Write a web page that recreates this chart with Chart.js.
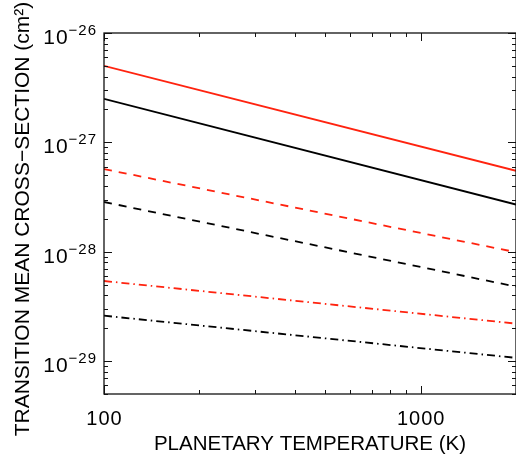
<!DOCTYPE html>
<html>
<head>
<meta charset="utf-8">
<script src="https://cdn.jsdelivr.net/npm/chart.js@4.4.1/dist/chart.umd.min.js"></script>
<style>
  html, body { margin: 0; padding: 0; background: #fff; overflow: hidden; }
  #wrap { width: 516px; height: 457px; overflow: hidden; }
  canvas { display: block; }
</style>
</head>
<body>
<div id="wrap"><canvas id="c" width="520" height="457"></canvas></div>
<script>
// ---- data ----
const temperatures = [100, 2000];
const redSolid     = [5.0e-27, 5.5e-28];
const blackSolid   = [2.5e-27, 2.7e-28];
const redDashed    = [5.7e-28, 9.9e-29];
const blackDashed  = [2.85e-28, 4.8e-29];
const redDashDot   = [5.4e-29, 2.2e-29];
const blackDashDot = [2.6e-29, 1.07e-29];

const xMajorTicks = [100, 1000];
const xTickLabels = ['100', '1000'];
const yDecadeExponents = [-26, -27, -28, -29];

const xTitle = 'PLANETARY TEMPERATURE (K)';
const yTitle = 'TRANSITION MEAN CROSS\u2212SECTION (cm\u00B2)';

const RED = 'rgb(255,35,15)';
const BLACK = '#000';

function pts(vals) { return temperatures.map((t, i) => ({ x: t, y: vals[i] })); }

function ds(vals, color, dash) {
  return {
    data: pts(vals), borderColor: color, backgroundColor: color,
    borderWidth: 1.8, borderDash: dash, pointRadius: 0, fill: false, tension: 0
  };
}

const DASH = [8, 7];
const DASHDOT = [8, 4, 1.5, 4];

const FONT = '"Liberation Sans", Arial, Helvetica, sans-serif';

const framePlugin = {
  id: 'frame',
  afterDraw(chart) {
    const ctx = chart.ctx;
    const a = chart.chartArea;
    const xs = chart.scales.x, ys = chart.scales.y;
    ctx.save();
    ctx.strokeStyle = '#111';
    ctx.lineWidth = 1.3;
    ctx.strokeRect(a.left, a.top, a.right - a.left, a.bottom - a.top);

    // x ticks (bottom and top, pointing inward)
    const xTicks = [];
    for (let d = 2; d <= 3; d++) {
      for (let m = 1; m <= 9; m++) {
        const v = m * Math.pow(10, d);
        if (v >= xs.min && v <= xs.max) xTicks.push({ v, major: m === 1 });
      }
    }
    ctx.beginPath();
    xTicks.forEach(t => {
      const px = Math.round(xs.getPixelForValue(t.v)) + 0.5;
      const len = t.major ? 8 : 4;
      ctx.moveTo(px, a.bottom); ctx.lineTo(px, a.bottom - len);
      ctx.moveTo(px, a.top); ctx.lineTo(px, a.top + len);
    });
    // y ticks (left and right)
    for (let d = -30; d <= -26; d++) {
      for (let m = 1; m <= 9; m++) {
        const v = m * Math.pow(10, d);
        if (v < ys.min * 0.999 || v > ys.max * 1.001) continue;
        const py = Math.round(ys.getPixelForValue(v)) + 0.5;
        const len = m === 1 ? 8 : 4;
        ctx.moveTo(a.left, py); ctx.lineTo(a.left + len, py);
        ctx.moveTo(a.right, py); ctx.lineTo(a.right - len, py);
      }
    }
    ctx.lineWidth = 1;
    ctx.stroke();

    // tick labels
    ctx.fillStyle = '#000';
    ctx.textBaseline = 'alphabetic';
    ctx.font = '20px ' + FONT;
    ctx.textAlign = 'center';
    ctx.letterSpacing = '1px';
    xMajorTicks.forEach((v, i) => {
      ctx.fillText(xTickLabels[i], xs.getPixelForValue(v) + 0.5, 425);
    });

    yDecadeExponents.forEach(e => {
      const py = ys.getPixelForValue(Math.pow(10, e));
      const expStr = '\u2212' + String(Math.abs(e));
      ctx.letterSpacing = '1px';
      ctx.font = '15px ' + FONT;
      const we = ctx.measureText(expStr).width;
      ctx.font = '21px ' + FONT;
      const wb = ctx.measureText('10').width;
      const right = 97;
      ctx.textAlign = 'left';
      ctx.fillText('10', right - we - wb, py + 11);
      ctx.font = '15px ' + FONT;
      ctx.fillText(expStr, right - we, py + 2);
    });

    // axis titles
    ctx.letterSpacing = '0px';
    ctx.font = '20.5px ' + FONT;
    ctx.textAlign = 'center';
    ctx.fillText(xTitle, (a.left + 516) / 2, 450);
    ctx.save();
    ctx.translate(28.5, 219);
    ctx.rotate(-Math.PI / 2);
    ctx.font = '21px ' + FONT;
    ctx.fillText(yTitle, 0, 0);
    ctx.restore();
    ctx.restore();
  }
};

new Chart(document.getElementById('c'), {
  type: 'line',
  data: {
    datasets: [
      ds(redSolid, RED, []),
      ds(blackSolid, BLACK, []),
      ds(redDashed, RED, DASH),
      ds(blackDashed, BLACK, DASH),
      ds(redDashDot, RED, DASHDOT),
      ds(blackDashDot, BLACK, DASHDOT)
    ]
  },
  options: {
    responsive: false,
    animation: false,
    devicePixelRatio: 1,
    layout: { padding: { top: 33, right: 4, left: 0, bottom: 0 } },
    plugins: { legend: { display: false }, tooltip: { enabled: false }, title: { display: false } },
    scales: {
      x: {
        type: 'logarithmic', min: 100, max: 2000,
        ticks: { display: false }, grid: { display: false }, border: { display: false },
        afterFit(s) { s.height = 63; }
      },
      y: {
        type: 'logarithmic', min: 5.0e-30, max: 1e-26,
        ticks: { display: false }, grid: { display: false }, border: { display: false },
        afterFit(s) { s.width = 104; }
      }
    }
  },
  plugins: [framePlugin]
});
</script>
</body>
</html>
